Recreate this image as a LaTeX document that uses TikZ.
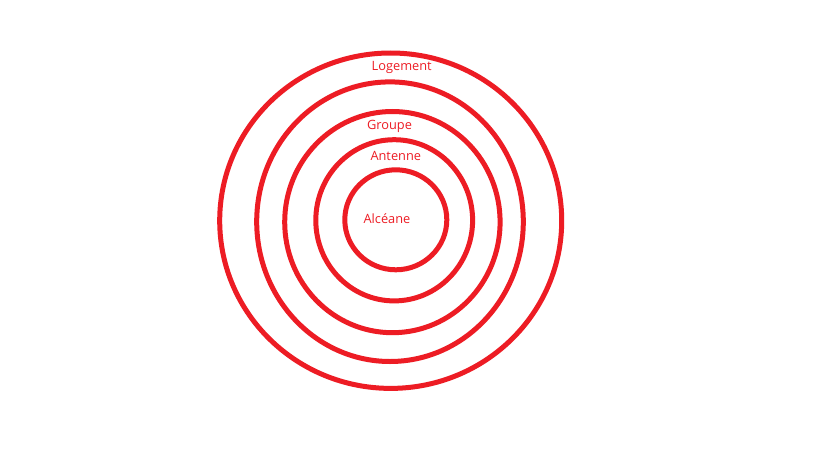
\documentclass[tikz,border=0pt]{standalone}
\usepackage{fontspec}
\setmainfont{Open Sans}
\definecolor{paintred}{HTML}{ED1C24}
\begin{document}
\begin{tikzpicture}[x=1pt,y=-1pt,
  ring/.style={draw=paintred,line width=5pt},
  lbl/.style={text=paintred,font=\fontsize{12.8}{15}\selectfont,inner sep=0pt}]
\useasboundingbox[fill=white] (0,0) rectangle (819,460);
\draw[ring] (390.7,220.7) ellipse [x radius=171,y radius=167.7];
\draw[ring] (390,221.7) ellipse [x radius=133.3,y radius=139.8];
\draw[ring] (392.4,222.1) ellipse [x radius=107.7,y radius=110.6];
\draw[ring] (394.2,220.3) ellipse [x radius=78.4,y radius=80.6];
\draw[ring] (395.8,219.8) ellipse [x radius=51,y radius=50];
\node[lbl] (logement) at (401.7,67.3) {Logement};
\node[lbl] (groupe) at (389.5,126.7) {Groupe};
\node[lbl] (antenne) at (395.8,156) {Antenne};
\node[lbl] (alceane) at (387,218.7) {Alcéane};
\end{tikzpicture}
\end{document}
